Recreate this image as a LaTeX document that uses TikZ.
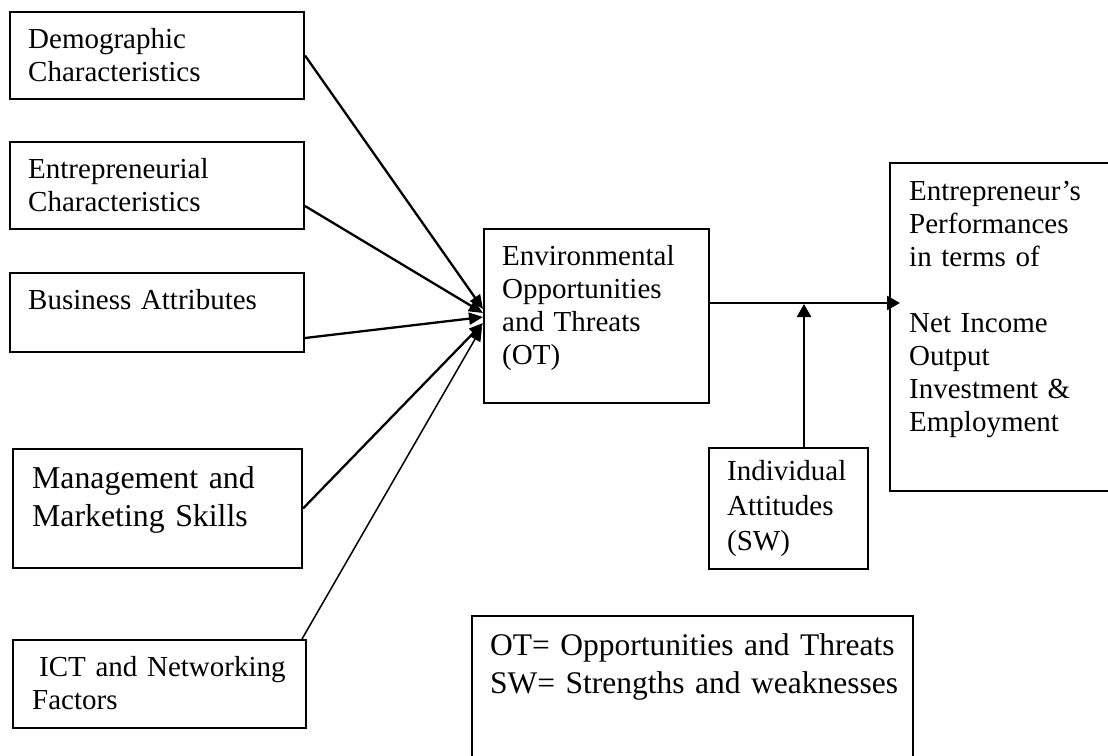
\documentclass[tikz,border=0pt]{standalone}
\usepackage{fontspec}
\setmainfont{Liberation Serif}
\usetikzlibrary{arrows.meta}
\begin{document}
\begin{tikzpicture}[x=1pt,y=-1pt,
  box/.style={draw, line width=2pt, inner sep=0pt, anchor=north west},
  txt/.style={anchor=base west, inner sep=0pt, align=left, text width=#1,
              font=\fontsize{29}{33}\selectfont},
  txt/.default=200pt,
  bigtxt/.style={anchor=base west, inner sep=0pt, align=left, text width=#1,
              font=\fontsize{31.8}{38.5}\selectfont},
  bigtxt/.default=260pt,
  arr/.style={-{Triangle[length=13pt,width=14pt]}, line width=2.5pt},
  conv/.style={-{Triangle[length=14pt,width=12pt]}, line width=2.3pt}]
\useasboundingbox (0,0) rectangle (1108,755);
\fill[white] (0,0) rectangle (1108,755);
\clip (0,0) rectangle (1108,755);

% left boxes
\node[box, minimum width=294pt, minimum height=87pt] (b1) at (9,11) {};
\node[txt] (t1) at (28,48) {Demographic\\Characteristics};
\node[box, minimum width=294pt, minimum height=87pt] (b2) at (9,141) {};
\node[txt] (t2) at (28,178) {Entrepreneurial\\Characteristics};
\node[box, minimum width=294pt, minimum height=79pt] (b3) at (9,272) {};
\node[txt=260pt] (t3) at (28,309) {Business Attributes};
\node[box, minimum width=289pt, minimum height=119pt] (b4) at (12,448) {};
\node[bigtxt] (t4) at (32,488) {Management and\\Marketing Skills};
\node[box, minimum width=293pt, minimum height=88pt] (b5) at (12,639) {};
\node[txt=265pt] (t5) at (32,676) {\hspace*{7pt}ICT and Networking\\Factors};

% centre box
\node[box, minimum width=225pt, minimum height=174pt] (env) at (483,228) {};
\node[txt] (te) at (502,265) {Environmental\\Opportunities\\and Threats\\(OT)};

% right box
\node[box, minimum width=240pt, minimum height=328pt] (perf) at (889,162) {};
\node[txt=190pt] (tp) at (909,200) {Entrepreneur’s\\Performances\\in terms of\\[33pt]Net Income\\Output\\Investment \&\\Employment};

% individual attitudes
\node[box, minimum width=159pt, minimum height=121pt] (ind) at (708,447) {};
\node[txt=135pt, font=\fontsize{29}{35}\selectfont] (ti) at (727,480) {Individual\\Attitudes\\(SW)};

% legend
\node[box, minimum width=441pt, minimum height=160pt] (leg) at (471,615) {};
\node[bigtxt=415pt, font=\fontsize{31.5}{38}\selectfont] (tl) at (490,655) {OT= Opportunities and Threats\\SW= Strengths and weaknesses};

% converging arrows
\draw[conv] (b1.east) -- ([yshift=7pt]env.west);
\draw[conv] ([yshift=-20.5pt]b2.east) -- ([yshift=3pt]env.west);
\draw[conv] ([yshift=-25.5pt]b3.east) -- ([yshift=-1pt]env.west);
\draw[conv] (b4.east) -- ([yshift=-7pt]env.west);
\draw[-{Triangle[length=14pt,width=12pt]}, line width=1.5pt] ([xshift=-5pt]b5.north east) -- ([xshift=-1pt,yshift=-11pt]env.west);

% output arrows
\coordinate (j) at (804,303);
\draw[arr, shorten >=-11pt] (env.east |- j) -- (perf.west |- j);
\draw[arr] (j |- ind.north) -- ([yshift=-1pt]j);
\end{tikzpicture}
\end{document}
